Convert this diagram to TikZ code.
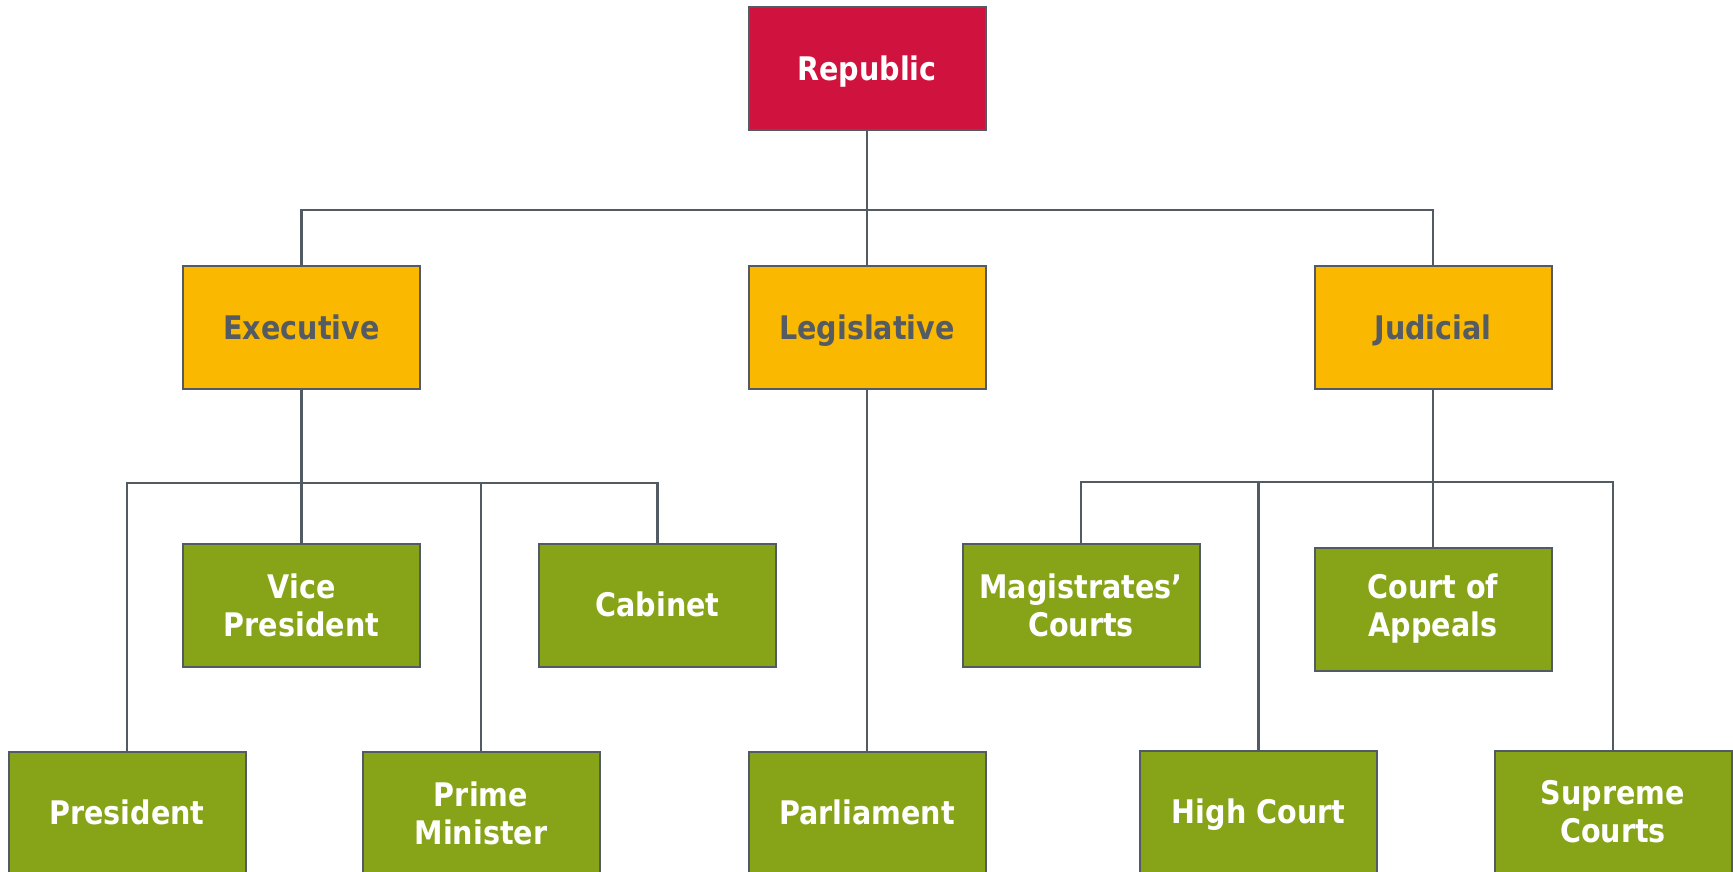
\documentclass[tikz,border=0pt]{standalone}
\usepackage{fontspec}
\setmainfont{DejaVu Sans}[FakeStretch=0.88]
\definecolor{repred}{HTML}{D0123E}
\definecolor{brYel}{HTML}{FAB800}
\definecolor{leafGreen}{HTML}{87A418}
\definecolor{lineGray}{HTML}{525A64}
\definecolor{txtGray}{HTML}{545B63}
\begin{document}
\begin{tikzpicture}[x=1pt,y=-1pt,
  box/.style={draw=lineGray,line width=2pt,minimum width=237pt,minimum height=123pt,inner sep=0pt,align=center,font=\fontsize{32.5}{38}\selectfont\bfseries},
  single/.style={text height=23.7pt,text depth=0pt},
  toplevel/.style={box,fill=repred,text=white},
  branch/.style={box,fill=brYel,text=txtGray},
  leaf/.style={box,fill=leafGreen,text=white},
  conn/.style={draw=lineGray,line width=2.5pt}]
\useasboundingbox (0,0) rectangle (1733,872);
\node[toplevel,single] (rep) at (867,69) {Republic};
\node[branch,single] (exe) at (301.5,327.5) {Executive};
\node[branch,single] (leg) at (867,327.5) {Legislative};
\node[branch,single] (jud) at (1433,327.5) {Judicial};
\node[leaf] (vp) at (301.5,605) {Vice\\President};
\node[leaf,single] (cab) at (657.5,605) {Cabinet};
\node[leaf,single] (pres) at (127,813) {President};
\node[leaf] (pm) at (481,813) {Prime\\Minister};
\node[leaf,single] (parl) at (867,813) {Parliament};
\node[leaf] (mag) at (1081,605.5) {Magistrates'\\Courts};
\node[leaf] (coa) at (1433,609) {Court of\\Appeals};
\node[leaf,single] (hc) at (1258.5,812) {High Court};
\node[leaf] (sup) at (1613,812) {Supreme\\Courts};
\coordinate (b1) at (0,210);
\coordinate (b2) at (0,483);
\coordinate (b3) at (0,482);
\draw[conn] (rep.south) -- (leg.north);
\draw[conn] (exe.north) |- (jud.north |- b1) -- (jud.north);
\draw[conn] (exe.south) -- (vp.north);
\draw[conn] (pres.north) |- (cab.north |- b2) -- (cab.north);
\draw[conn] (pm.north) -- (pm.north |- b2);
\draw[conn] (leg.south) -- (parl.north);
\draw[conn] (jud.south) -- (coa.north);
\draw[conn] (mag.north) |- (sup.north |- b3) -- (sup.north);
\draw[conn] (hc.north) -- (hc.north |- b3);
\end{tikzpicture}
\end{document}
